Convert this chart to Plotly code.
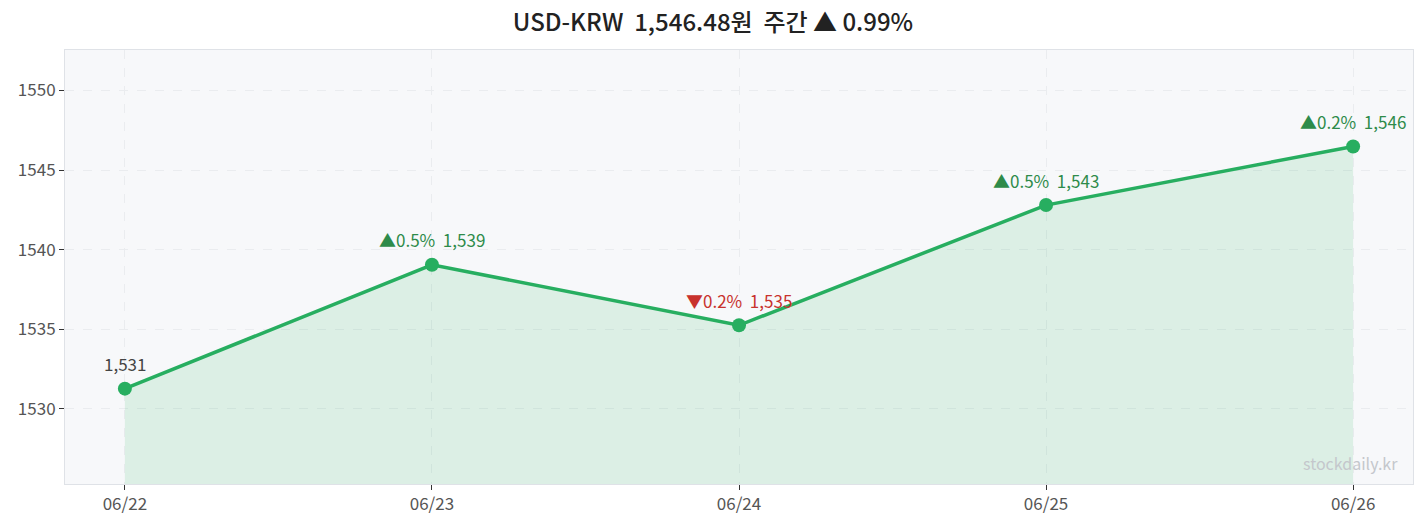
import plotly.graph_objects as go

dates = ["06/22", "06/23", "06/24", "06/25", "06/26"]
rates = [1531.27, 1539.05, 1535.25, 1542.80, 1546.48]
labels = ["1,531", "▲0.5%  1,539", "▼0.2%  1,535", "▲0.5%  1,543", "▲0.2%  1,546"]
label_colors = ["#444444", "#2e8b4a", "#c8322d", "#2e8b4a", "#2e8b4a"]
y_ticks = [1530, 1535, 1540, 1545, 1550]

FONT = "Noto Sans CJK KR"
xs = list(range(len(dates)))
Y_MIN, Y_MAX = 1525.28, 1552.54

fig = go.Figure()
fig.add_trace(go.Scatter(
    x=xs, y=[Y_MIN] * len(xs), mode="lines", line=dict(width=0),
    hoverinfo="skip", showlegend=False))
fig.add_trace(go.Scatter(
    x=xs, y=rates, mode="lines+markers",
    line=dict(color="#27ae60", width=3.5),
    marker=dict(size=14, color="#27ae60"),
    fill="tonexty", fillcolor="rgba(39,174,96,0.13)",
    showlegend=False))

for x, y, t, c in zip(xs, rates, labels, label_colors):
    fig.add_annotation(x=x, y=y, text=t, showarrow=False, yshift=25,
                       font=dict(family=FONT, size=17, color=c))

fig.add_annotation(xref="paper", yref="paper", x=0.99, y=0.015,
                   xanchor="right", yanchor="bottom", text="stockdaily.kr",
                   showarrow=False, font=dict(family=FONT, size=16, color="#c4c7cc"))

fig.update_layout(
    width=1426, height=527,
    margin=dict(l=65, r=13, t=50, b=38),
    paper_bgcolor="white", plot_bgcolor="#f7f8fa",
    title=dict(text="USD-KRW  1,546.48원  주간 ▲ 0.99%", x=0.5, xanchor="center",
               y=0.958, yanchor="middle",
               font=dict(family=FONT, size=24, color="#222222", weight=500)),
    font=dict(family=FONT, size=17, color="#555555"),
)
axis_common = dict(
    showgrid=True, gridcolor="#eaecef", griddash="dash", gridwidth=1,
    showline=True, linecolor="#dfe2e7", mirror=True, linewidth=1,
    ticks="outside", ticklen=5, tickcolor="#333333", zeroline=False,
    tickfont=dict(family=FONT, size=17, color="#555555"))
fig.update_xaxes(range=[-0.195, 4.195], tickvals=xs, ticktext=dates, **axis_common)
fig.update_yaxes(range=[Y_MIN, Y_MAX], tickvals=y_ticks, **axis_common)

fig.write_html("out.html", config={"displayModeBar": False},
               post_script="document.body.style.margin='0';")
